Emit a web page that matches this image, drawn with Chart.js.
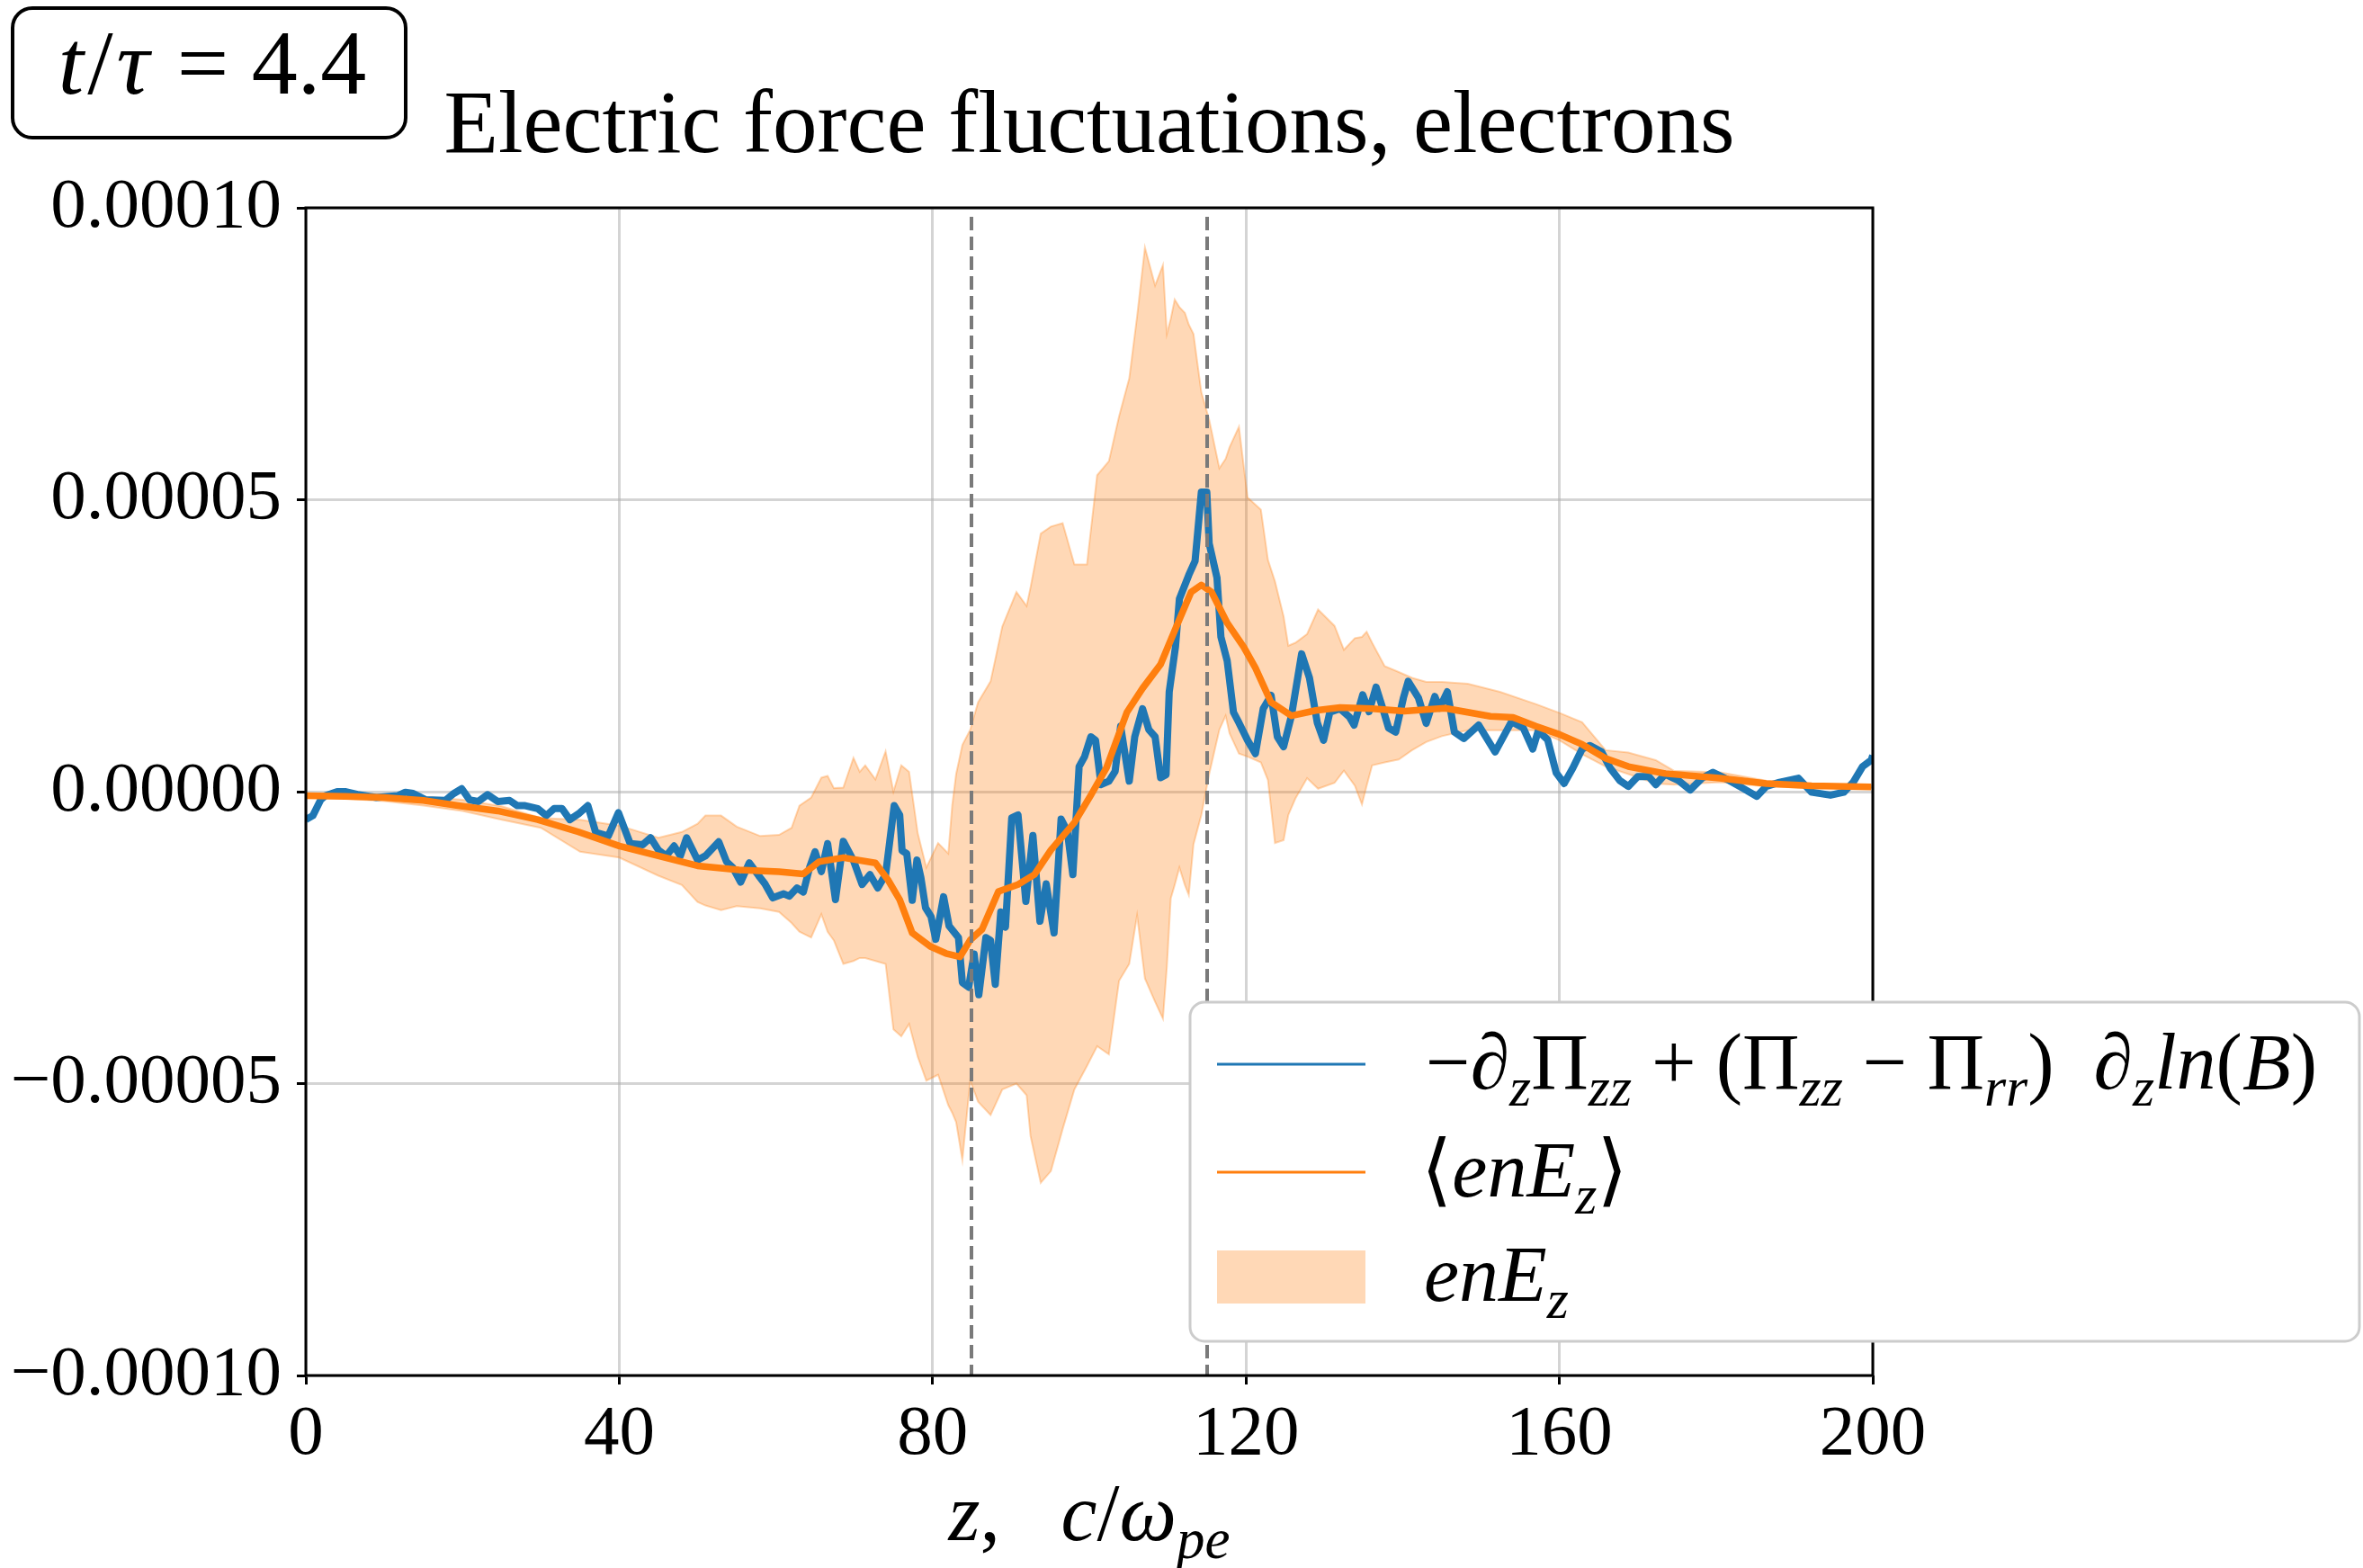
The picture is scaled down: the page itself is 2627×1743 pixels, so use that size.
<!DOCTYPE html>
<html>
<head>
<meta charset="utf-8">
<script src="https://cdn.jsdelivr.net/npm/chart.js@4.4.1/dist/chart.umd.min.js"></script>
<style>
html, body { margin:0; padding:0; background:#fff; }
#graph { display:block; }
</style>
</head>
<body>
<canvas id="graph" width="2627" height="1743"></canvas>
<script>
// values are in units of 1e-5 (the y tick labels show the real numbers)

// -dz Pzz + (Pzz - Prr) dz ln(B)
var blueZ = [0,0.9,1.9,2.5,4,5,6.6,9,11.7,12.7,
    13.7,15.3,17.8,18.9,19.9,20.9,22,23.2,24.5,26,
    27,28,29.6,30.7,31.7,32.7,33.7,34.8,36,37,
    38.6,39.9,41.4,43,44,45,46,47,47.8,48.6,
    50,51,52.7,53.7,54.5,55.5,56.6,57.8,58.6,59.6,
    61,61.7,62.7,63.5,64.3,65,65.8,66.6,67.6,68.6,
    69.9,71,72,73,74,
    75.1,75.8,76.1,76.7,77.4,78,78.5,79.1,79.8,80.4,
    81.4,82.1,83.3,83.8,84.6,85.3,85.9,86.8,87.4,88,
    88.7,89.3,90.1,90.9,91.9,92.8,93.7,94.5,95.5,96.4,
    97.2,97.9,98.7,99.4,
    100.2,100.8,101.5,102.5,103.3,104,105.1,105.8,106.8,107.6,
    108.4,109.1,109.8,110.2,111,111.5,112.7,113.5,114.3,115,
    115.3,116.3,116.8,117.6,118.4,119.1,120.2,121.2,122.2,123.2,
    124,124.8,125.8,127.1,128.1,129.1,129.9,130.7,132,
    133.2,133.8,134.9,135.7,136.6,137.4,138.2,139.1,140.1,140.7,
    142,143,144.1,144.7,145.7,146.6,147.8,149.7,151.8,153.9,
    155.4,156.6,157.3,158.5,159.6,160.6,161.7,162.9,163.9,165.4,
    166.5,167.7,
    168.8,170,171.4,172.3,173.5,175.2,176.7,178.2,179.6,181.7,
    183.4,185.2,186.4,188.1,190.5,192.2,194.6,196.3,197.5,198.7,
    199.8,200];
var blueV = [-0.48,-0.41,-0.14,-0.07,0,0,-0.05,-0.10,-0.07,-0.01,
    -0.03,-0.14,-0.15,-0.03,0.05,-0.14,-0.17,-0.05,-0.17,-0.15,
    -0.24,-0.24,-0.29,-0.41,-0.29,-0.29,-0.48,-0.38,-0.24,-0.70,
    -0.76,-0.36,-0.89,-0.91,-0.79,-1.00,-1.10,-0.93,-1.10,-0.79,
    -1.17,-1.10,-0.86,-1.20,-1.30,-1.55,-1.22,-1.44,-1.58,-1.82,
    -1.75,-1.79,-1.65,-1.72,-1.30,-1.03,-1.37,-0.89,-1.85,-0.85,
    -1.18,-1.59,-1.42,-1.65,-1.42,
    -0.24,-0.40,-1.01,-1.06,-1.86,-1.17,-1.47,-1.99,-2.14,-2.53,
    -1.80,-2.30,-2.50,-3.27,-3.35,-2.78,-3.48,-2.50,-2.55,-3.30,
    -2.06,-2.32,-0.45,-0.40,-1.88,-0.75,-2.22,-1.58,-2.42,-0.47,
    -0.68,-1.42,0.43,0.60,
    0.94,0.88,0.12,0.18,0.35,1.12,0.18,0.94,1.42,1.06,
    0.94,0.24,0.29,1.71,2.48,3.30,3.71,3.95,5.13,5.13,
    4.25,3.66,2.65,2.24,1.36,1.18,0.88,0.65,1.42,1.65,
    0.94,0.77,1.30,2.36,1.95,1.18,0.88,1.36,1.42,
    1.28,1.14,1.66,1.37,1.79,1.45,1.09,1.02,1.61,1.89,
    1.61,1.17,1.63,1.43,1.71,1.02,0.91,1.14,0.68,1.20,
    1.09,0.73,1.04,0.89,0.32,0.14,0.40,0.73,0.79,0.68,
    0.40,0.19,
    0.09,0.26,0.26,0.12,0.30,0.19,0.03,0.23,0.33,0.19,
    0.06,-0.08,0.09,0.16,0.23,-0.01,-0.06,-0.01,0.16,0.43,
    0.54,0.62];

// <enEz>
var orangeZ = [0,5,10,15,19.4,24.5,29.6,34.8,40,45,
    50,55.3,60.4,63.5,65.5,68.6,72.7,74.3,75.8,77.4,
    79.7,81.7,83.5,84.8,86.3,88.4,90.9,93,95.1,98.1,
    100.2,102.2,104.8,106.8,109.1,111.5,113,114.3,115.6,117.6,
    119.7,121.2,123.2,125.8,128.9,132,136.1,140.2,145.4,151.2,
    154.1,157,160,162.9,165.9,168.8,173.5,180.5,186.4,192.2,
    199.8];
var orangeV = [-0.07,-0.08,-0.10,-0.15,-0.24,-0.33,-0.48,-0.69,-0.93,-1.10,
    -1.27,-1.34,-1.37,-1.41,-1.20,-1.13,-1.22,-1.51,-1.85,-2.42,
    -2.65,-2.77,-2.83,-2.54,-2.36,-1.71,-1.59,-1.42,-1.00,-0.53,
    -0.06,0.41,1.36,1.77,2.18,2.95,3.42,3.54,3.42,2.89,
    2.48,2.12,1.53,1.30,1.39,1.44,1.42,1.38,1.43,1.29,
    1.27,1.12,0.98,0.81,0.57,0.43,0.31,0.23,0.14,0.10,
    0.08];

// enEz spread (lower / upper edge)
var bandZ = [0,5,10,15,20,25,30,35,40,45,
    48,50,51,53,55,58,60.4,62,63,64.5,
    65.8,66.6,67.4,68.6,69.9,70.7,71.4,72.7,74,75,
    76,77,78.1,79.2,80.7,82,82.5,83,83.8,84.8,
    85.8,87.4,88.9,90.7,92,92.5,93.8,95.1,96.6,98.1,
    99.7,101,102.5,103.8,105.1,106.1,107.1,108.4,109.4,109.9,
    110.4,110.9,111.5,112.2,112.7,113.3,114.3,115.3,116.6,117.4,
    117.9,119.1,120.2,121.9,122.8,123.7,124.8,125.4,126.3,127.8,
    129.2,131.3,132.5,133.9,134.8,135.4,136.1,137.7,139.5,141.2,
    143,145,148.3,152.4,157,160,162.9,165.9,168.8,172.3,
    174.6,180.5,186.4,192.2,200];
var bandLow = [-0.10,-0.12,-0.16,-0.24,-0.33,-0.48,-0.62,-1.03,-1.13,-1.44,
    -1.60,-1.89,-1.95,-2.03,-1.96,-2.00,-2.06,-2.25,-2.40,-2.50,
    -2.10,-2.40,-2.55,-2.95,-2.90,-2.85,-2.85,-2.90,-2.95,-4.07,
    -4.19,-3.98,-4.54,-4.95,-4.85,-5.37,-5.50,-5.66,-6.31,-4.95,
    -5.31,-5.54,-5.10,-5.00,-5.20,-5.90,-6.70,-6.50,-5.78,-5.10,
    -4.70,-4.36,-4.50,-3.24,-2.95,-2.12,-3.20,-3.60,-3.89,-3.00,
    -1.83,-1.60,-1.30,-1.60,-1.77,-0.90,-0.40,0.30,1.06,1.30,
    1.00,0.65,0.60,0.50,0.20,-0.88,-0.83,-0.40,-0.12,0.23,
    0.05,0.15,0.36,0.10,-0.22,0.10,0.45,0.50,0.55,0.71,
    0.85,0.95,1.05,1.05,1.05,0.88,0.64,0.43,0.30,0.14,
    0.12,0.16,0.09,0.06,0.06];
var bandHigh = [-0.04,-0.03,-0.05,-0.09,-0.14,-0.25,-0.45,-0.48,-0.58,-0.79,
    -0.69,-0.55,-0.41,-0.41,-0.60,-0.76,-0.74,-0.62,-0.24,-0.10,
    0.24,0.27,0.06,0.07,0.58,0.34,0.45,0.21,0.69,0.00,
    0.45,0.34,-0.71,-1.30,-0.88,-1.06,-0.24,0.30,0.80,1.06,
    1.53,1.89,2.83,3.42,3.18,3.50,4.42,4.54,4.60,3.89,
    3.89,5.42,5.66,6.43,7.08,8.14,9.32,8.67,9.02,7.84,
    8.10,8.43,8.30,8.20,8.00,7.84,6.84,6.37,5.54,5.70,
    5.90,6.25,5.04,4.83,3.97,3.60,3.00,2.50,2.55,2.70,
    3.12,2.84,2.43,2.63,2.65,2.74,2.55,2.15,2.05,1.95,
    1.88,1.88,1.85,1.71,1.50,1.35,1.19,0.71,0.67,0.54,
    0.36,0.33,0.19,0.13,0.10];

// dashed vertical markers
var markerZ = [85, 115];

var yTicks      = [-10, -5, 0, 5, 10];
var yTickLabels = ["\u22120.00010", "\u22120.00005", "0.00000", "0.00005", "0.00010"];
var xTicks      = [0, 40, 80, 120, 160, 200];

var FONT = '"Liberation Serif", "DejaVu Serif", serif';

function pts(zs, vs){
    let out = [];
    for (let i=0;i<zs.length;i++){ out.push({x: zs[i], y: vs[i]}); }
    return out;
}

//数式っぽいテキストをトークンごとに描く (g = 後ろに足す隙間, em単位)
function tokFont(t, size){
    return (t.it ? "italic " : "") + Math.round(t.sub ? size*0.7 : size) + "px " + FONT;
}
function mathWidth(ctx, toks, size){
    let w = 0;
    toks.forEach(function(t){
        ctx.font = tokFont(t, size);
        w += ctx.measureText(t.t).width + (t.g || 0)*size;
    });
    return w;
}
function drawMath(ctx, toks, x, y, size, align){
    let cx = x;
    if (align === "center") cx = x - mathWidth(ctx, toks, size)/2;
    toks.forEach(function(t){
        ctx.font = tokFont(t, size);
        ctx.fillText(t.t, cx, y + (t.sub ? size*0.22 : 0));
        cx += ctx.measureText(t.t).width + (t.g || 0)*size;
    });
}

var label1 = [
    {t:"\u2212"}, {t:"\u2202", it:1}, {t:"z", it:1, sub:1}, {t:"\u03A0"}, {t:"zz", it:1, sub:1},
    {t:" + ("}, {t:"\u03A0"}, {t:"zz", it:1, sub:1}, {t:" \u2212 "}, {t:"\u03A0"}, {t:"rr", it:1, sub:1},
    {t:")  "}, {t:"\u2202", it:1}, {t:"z", it:1, sub:1}, {t:"ln", it:1}, {t:"("}, {t:"B", it:1}, {t:")"}
];
var label2 = [ {t:"\u27E8"}, {t:"enE", it:1}, {t:"z", it:1, sub:1}, {t:"\u27E9"} ];
var label3 = [ {t:"enE", it:1}, {t:"z", it:1, sub:1} ];
var timeText = [ {t:"t", it:1, g:0.04}, {t:"/", g:0.04}, {t:"\u03C4", it:1, g:0.3}, {t:"=", g:0.25}, {t:"4.4"} ];
var xTitle = [ {t:"z", it:1}, {t:",   "}, {t:"c", it:1}, {t:"/"}, {t:"\u03C9", it:1}, {t:"pe", it:1, sub:1} ];

var decorations = {
    id: "decorations",
    afterDatasetsDraw: function(chart){
        let ctx = chart.ctx, a = chart.chartArea, xs = chart.scales.x;
        ctx.save();
        ctx.strokeStyle = "#7a7a7a";
        ctx.lineWidth = 4;
        ctx.setLineDash([15, 7]);
        markerZ.forEach(function(z){
            let px = Math.round(xs.getPixelForValue(z));
            ctx.beginPath();
            ctx.moveTo(px, a.top + 10);
            ctx.lineTo(px, a.bottom);
            ctx.stroke();
        });
        ctx.setLineDash([]);
        ctx.strokeStyle = "#000";
        ctx.lineWidth = 3;
        ctx.strokeRect(a.left, a.top, a.right - a.left, a.bottom - a.top);
        ctx.restore();
    },
    afterDraw: function(chart){
        let ctx = chart.ctx, a = chart.chartArea;
        ctx.save();
        ctx.fillStyle = "#000";
        ctx.textBaseline = "alphabetic";
        ctx.textAlign = "left";

        // title
        ctx.font = "99px " + FONT;
        let tt = "Electric force fluctuations, electrons";
        ctx.fillText(tt, (a.left + a.right)/2 - ctx.measureText(tt).width/2, 169);

        // t/tau box
        ctx.beginPath();
        ctx.roundRect(14, 9, 437, 144, 22);
        ctx.lineWidth = 4;
        ctx.strokeStyle = "#000";
        ctx.stroke();
        drawMath(ctx, timeText, 236, 104, 102, "center");

        // x axis title
        drawMath(ctx, xTitle, (a.left + a.right)/2, 1712, 90, "center");

        // legend
        ctx.beginPath();
        ctx.roundRect(1323, 1114, 1300, 377, 16);
        ctx.fillStyle = "#fff";
        ctx.fill();
        ctx.lineWidth = 3;
        ctx.strokeStyle = "#cccccc";
        ctx.stroke();

        ctx.lineWidth = 3;
        ctx.strokeStyle = "#1f77b4";
        ctx.beginPath(); ctx.moveTo(1353, 1183); ctx.lineTo(1518, 1183); ctx.stroke();
        ctx.strokeStyle = "#ff7f0e";
        ctx.beginPath(); ctx.moveTo(1353, 1303); ctx.lineTo(1518, 1303); ctx.stroke();
        ctx.fillStyle = "rgba(255,127,14,0.3)";
        ctx.fillRect(1353, 1390, 165, 59);

        ctx.fillStyle = "#000";
        drawMath(ctx, label1, 1585, 1210, 88, "left");
        drawMath(ctx, label2, 1580, 1330, 88, "left");
        drawMath(ctx, label3, 1583, 1446, 88, "left");
        ctx.restore();
    }
};

window.addEventListener("load", function(){

    Chart.defaults.font.family = FONT;
    Chart.defaults.font.size = 79;
    Chart.defaults.color = "#000";

    let gridOpts = { color: "rgba(176,176,176,0.55)", lineWidth: 3, tickColor: "#000", tickLength: 10, tickWidth: 3 };

    let data = {
        datasets: [
            {
                label: "enEz low",
                data: pts(bandZ, bandLow),
                borderColor: "rgba(255,127,14,0.3)",
                borderWidth: 2,
                pointRadius: 0,
                fill: false,
                order: 3
            },
            {
                label: "enEz",
                data: pts(bandZ, bandHigh),
                borderColor: "rgba(255,127,14,0.3)",
                backgroundColor: "rgba(255,127,14,0.3)",
                borderWidth: 2,
                pointRadius: 0,
                fill: "-1",
                order: 2
            },
            {
                label: "pressure",
                data: pts(blueZ, blueV),
                borderColor: "#1f77b4",
                borderWidth: 8,
                borderJoinStyle: "round",
                pointRadius: 0,
                fill: false,
                order: 1
            },
            {
                label: "<enEz>",
                data: pts(orangeZ, orangeV),
                borderColor: "#ff7f0e",
                borderWidth: 7.5,
                borderJoinStyle: "round",
                pointRadius: 0,
                fill: false,
                order: 0
            }
        ]
    };

    let options = {
        responsive: false,
        animation: false,
        devicePixelRatio: 1,
        layout: { padding: { left: 0, right: 545, top: 231, bottom: 0 } },
        plugins: {
            legend: { display: false },
            title: { display: false },
            tooltip: { enabled: false }
        },
        scales: {
            x: {
                type: "linear",
                min: 0,
                max: 200,
                afterBuildTicks: function(axis){ axis.ticks = xTicks.map(function(v){ return {value: v}; }); },
                afterFit: function(axis){ axis.height = 214; },
                ticks: { maxRotation: 0, autoSkip: false, padding: 9, callback: function(v){ return String(v); } },
                grid: gridOpts,
                border: { display: false }
            },
            y: {
                type: "linear",
                min: -10,
                max: 10,
                afterBuildTicks: function(axis){ axis.ticks = yTicks.map(function(v){ return {value: v}; }); },
                afterFit: function(axis){ axis.width = 340; },
                ticks: {
                    padding: 17,
                    callback: function(v){ return yTickLabels[yTicks.indexOf(v)]; }
                },
                grid: gridOpts,
                border: { display: false }
            }
        }
    };

    new Chart(document.getElementById("graph"), {
        type: "line",
        data: data,
        options: options,
        plugins: [decorations]
    });
});
</script>
</body>
</html>
